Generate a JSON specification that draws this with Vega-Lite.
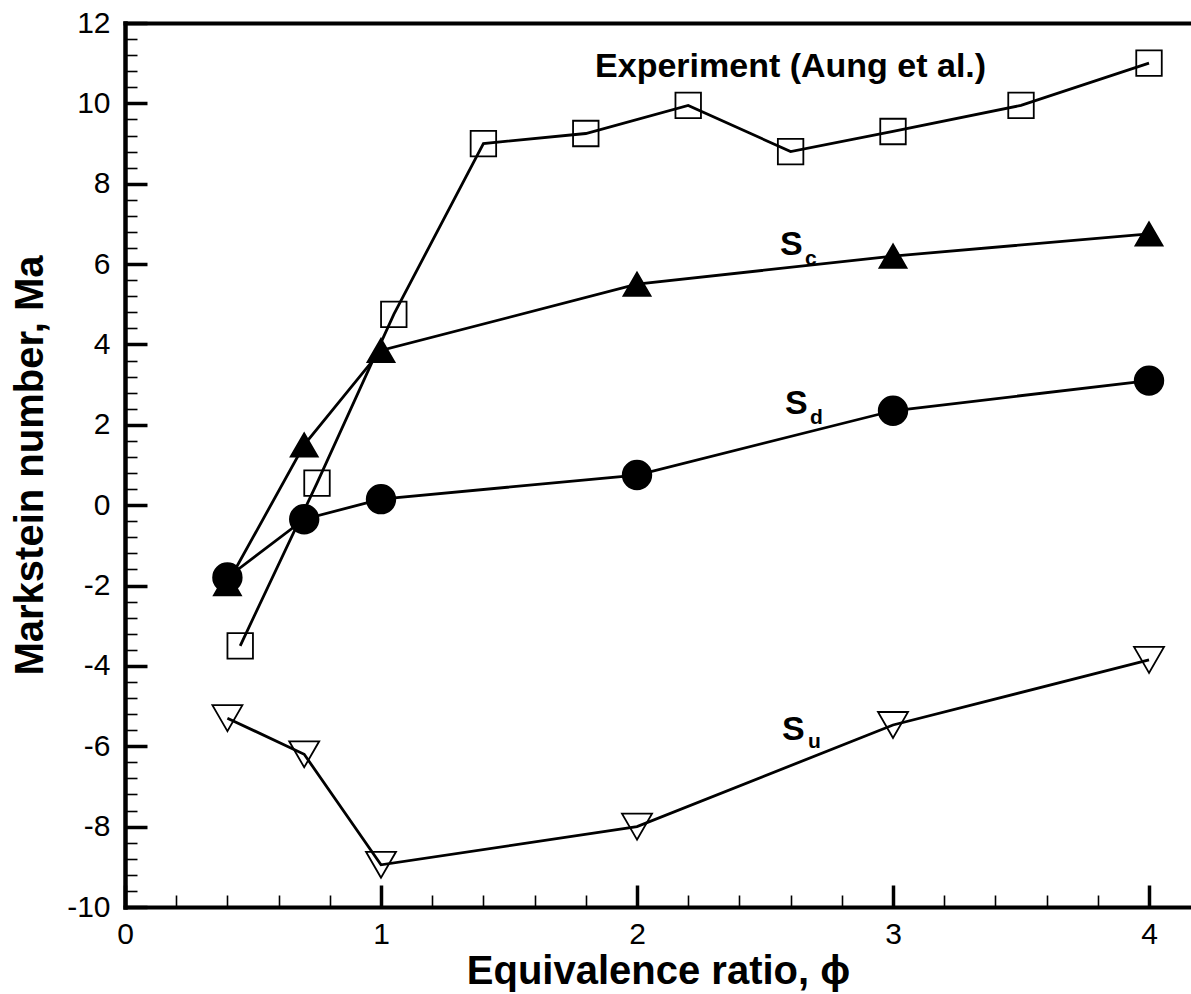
{
  "$schema": "https://vega.github.io/schema/vega-lite/v6.json",
  "width": 1066,
  "height": 884,
  "autosize": {"type": "none"},
  "padding": {"left": 125, "top": 23, "right": 0, "bottom": 87},
  "background": "white",
  "config": {
    "view": {"stroke": null},
    "font": "Liberation Sans",
    "axis": {
      "grid": false,
      "domainColor": "black",
      "tickColor": "black",
      "labelColor": "black",
      "titleColor": "black",
      "labelFont": "Liberation Sans",
      "labelFontSize": 30,
      "titleFont": "Liberation Sans",
      "titleFontSize": 40,
      "titleFontWeight": "bold",
      "labelFlush": false,
      "labelOverlap": false,
      "labelBound": false,
      "domainCap": "square"
    }
  },
  "data": {
    "values": [
      {"series": "Experiment", "phi": 0.45, "Ma": -3.5},
      {"series": "Experiment", "phi": 0.75, "Ma": 0.55},
      {"series": "Experiment", "phi": 1.05, "Ma": 4.75},
      {"series": "Experiment", "phi": 1.4, "Ma": 9.0},
      {"series": "Experiment", "phi": 1.8, "Ma": 9.25},
      {"series": "Experiment", "phi": 2.2, "Ma": 9.95},
      {"series": "Experiment", "phi": 2.6, "Ma": 8.8},
      {"series": "Experiment", "phi": 3.0, "Ma": 9.3},
      {"series": "Experiment", "phi": 3.5, "Ma": 9.95},
      {"series": "Experiment", "phi": 4.0, "Ma": 11.0},
      {"series": "Sc", "phi": 0.4, "Ma": -1.95},
      {"series": "Sc", "phi": 0.7, "Ma": 1.5},
      {"series": "Sc", "phi": 1.0, "Ma": 3.85},
      {"series": "Sc", "phi": 2.0, "Ma": 5.5},
      {"series": "Sc", "phi": 3.0, "Ma": 6.2},
      {"series": "Sc", "phi": 4.0, "Ma": 6.75},
      {"series": "Sd", "phi": 0.4, "Ma": -1.8},
      {"series": "Sd", "phi": 0.7, "Ma": -0.35},
      {"series": "Sd", "phi": 1.0, "Ma": 0.15},
      {"series": "Sd", "phi": 2.0, "Ma": 0.75},
      {"series": "Sd", "phi": 3.0, "Ma": 2.35},
      {"series": "Sd", "phi": 4.0, "Ma": 3.1},
      {"series": "Su", "phi": 0.4, "Ma": -5.3},
      {"series": "Su", "phi": 0.7, "Ma": -6.2},
      {"series": "Su", "phi": 1.0, "Ma": -8.95},
      {"series": "Su", "phi": 2.0, "Ma": -8.0},
      {"series": "Su", "phi": 3.0, "Ma": -5.47},
      {"series": "Su", "phi": 4.0, "Ma": -3.85}
    ]
  },
  "layer": [
    {
      "mark": {"type": "line", "color": "black", "strokeWidth": 2.8},
      "encoding": {
        "x": {
          "field": "phi", "type": "quantitative",
          "scale": {"domain": [0, 4.164], "nice": false, "zero": false},
          "axis": {
            "orient": "bottom",
            "title": "Equivalence ratio, ϕ",
            "values": [0, 1, 2, 3, 4],
            "labelExpr": "'' + datum.value",
            "tickSize": -22,
            "tickWidth": 3.5,
            "domainWidth": 4,
            "labelPadding": 34,
            "titlePadding": 2
          }
        },
        "y": {
          "field": "Ma", "type": "quantitative",
          "scale": {"domain": [-10, 12], "nice": false, "zero": false},
          "axis": {
            "orient": "left",
            "title": "Markstein number, Ma",
            "values": [-10, -8, -6, -4, -2, 0, 2, 4, 6, 8, 10, 12],
            "labelExpr": "'' + datum.value",
            "tickSize": -22,
            "tickWidth": 3.5,
            "domainWidth": 4.5,
            "labelPadding": 37,
            "titlePadding": 16
          }
        },
        "detail": {"field": "series"}
      }
    },
    {
      "mark": {"type": "point", "filled": true, "stroke": "black", "strokeWidth": 1.8, "opacity": 1},
      "encoding": {
        "x": {
          "field": "phi", "type": "quantitative",
          "axis": {
            "orient": "bottom",
            "title": null,
            "values": [0.2, 0.4, 0.6, 0.8, 1.2, 1.4, 1.6, 1.8, 2.2, 2.4, 2.6, 2.8, 3.2, 3.4, 3.6, 3.8],
            "labels": false,
            "domain": false,
            "tickSize": -12,
            "tickWidth": 1.6
          }
        },
        "y": {
          "field": "Ma", "type": "quantitative",
          "axis": {
            "orient": "left",
            "title": null,
            "values": [-9.6, -9.2, -8.8, -8.4, -7.6, -7.2, -6.8, -6.4, -5.6, -5.2, -4.8, -4.4, -3.6, -3.2, -2.8, -2.4, -1.6, -1.2, -0.8, -0.4, 0.4, 0.8, 1.2, 1.6, 2.4, 2.8, 3.2, 3.6, 4.4, 4.8, 5.2, 5.6, 6.4, 6.8, 7.2, 7.6, 8.4, 8.8, 9.2, 9.6, 10.4, 10.8, 11.2, 11.6],
            "labels": false,
            "domain": false,
            "tickSize": -12,
            "tickWidth": 1.6
          }
        },
        "shape": {
          "field": "series", "type": "nominal",
          "scale": {"domain": ["Experiment", "Sc", "Sd", "Su"], "range": ["square", "triangle-up", "circle", "triangle-down"]},
          "legend": null
        },
        "fill": {
          "field": "series", "type": "nominal",
          "scale": {"domain": ["Experiment", "Sc", "Sd", "Su"], "range": ["transparent", "black", "black", "transparent"]},
          "legend": null
        },
        "size": {
          "field": "series", "type": "nominal",
          "scale": {"domain": ["Experiment", "Sc", "Sd", "Su"], "range": [650, 900, 960, 1060]},
          "legend": null
        }
      }
    },
    {
      "data": {"values": [{"label": "Experiment (Aung et al.)", "phi": 2.6, "Ma": 10.65}]},
      "mark": {"type": "text", "fontSize": 34, "fontWeight": "bold", "align": "center", "baseline": "alphabetic", "color": "black"},
      "encoding": {
        "x": {
          "field": "phi", "type": "quantitative",
          "axis": {"orient": "top", "title": null, "labels": false, "ticks": false, "domain": true, "domainWidth": 4}
        },
        "y": {"field": "Ma", "type": "quantitative", "axis": null},
        "text": {"field": "label"}
      }
    },
    {
      "data": {"values": [
        {"label": "S", "phi": 2.559, "Ma": 6.23},
        {"label": "S", "phi": 2.578, "Ma": 2.27},
        {"label": "S", "phi": 2.566, "Ma": -5.845}
      ]},
      "mark": {"type": "text", "fontSize": 34, "fontWeight": "bold", "align": "left", "baseline": "alphabetic", "color": "black"},
      "encoding": {
        "x": {"field": "phi", "type": "quantitative", "axis": null},
        "y": {"field": "Ma", "type": "quantitative", "axis": null},
        "text": {"field": "label"}
      }
    },
    {
      "data": {"values": [
        {"label": "c", "phi": 2.656, "Ma": 5.98},
        {"label": "d", "phi": 2.676, "Ma": 2.02},
        {"label": "u", "phi": 2.668, "Ma": -6.04}
      ]},
      "mark": {"type": "text", "fontSize": 21, "fontWeight": "bold", "align": "left", "baseline": "alphabetic", "color": "black"},
      "encoding": {
        "x": {"field": "phi", "type": "quantitative", "axis": null},
        "y": {"field": "Ma", "type": "quantitative", "axis": null},
        "text": {"field": "label"}
      }
    }
  ],
  "resolve": {"axis": {"x": "independent", "y": "independent"}}
}
